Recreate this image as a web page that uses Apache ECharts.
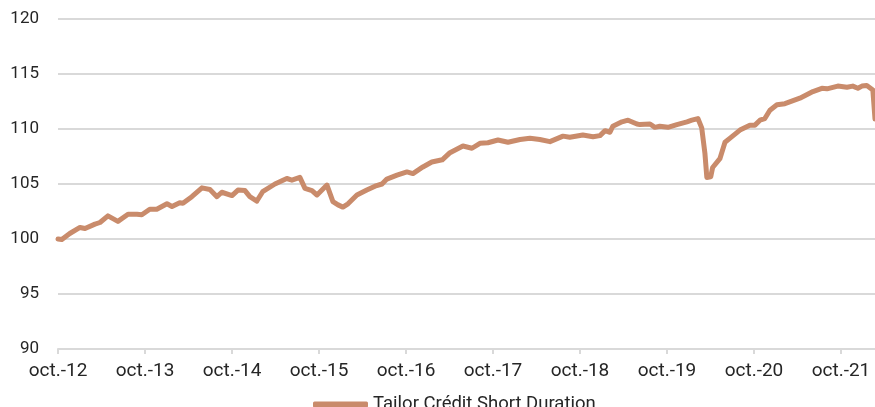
<!DOCTYPE html>
<html>
<head>
<meta charset="utf-8">
<script src="https://cdn.jsdelivr.net/npm/echarts@6/dist/echarts.min.js"></script>
<style>
  html, body { margin: 0; padding: 0; background: #fff; }
  #chart { width: 875px; height: 407px; }
</style>
</head>
<body>
<div id="chart"></div>
<script>
const seriesName = 'Tailor Crédit Short Duration';

const dates = [
  '2012-10-01', '2012-10-17', '2012-11-20', '2013-01-02', '2013-01-23', '2013-03-04',
  '2013-03-25', '2013-04-28', '2013-06-09', '2013-07-21', '2013-08-28', '2013-09-18',
  '2013-10-21', '2013-11-20', '2014-01-02', '2014-01-23', '2014-02-25', '2014-03-08',
  '2014-04-15', '2014-05-27', '2014-06-30', '2014-07-29', '2014-08-19', '2014-10-01',
  '2014-10-26', '2014-11-25', '2014-12-15', '2015-01-14', '2015-02-08', '2015-03-29',
  '2015-04-28', '2015-05-18', '2015-06-09', '2015-07-12', '2015-08-03', '2015-09-02',
  '2015-09-23', '2015-11-04', '2015-11-29', '2015-12-20', '2016-01-10', '2016-02-01',
  '2016-03-08', '2016-04-19', '2016-05-23', '2016-06-22', '2016-07-12', '2016-08-24',
  '2016-10-05', '2016-10-30', '2016-12-11', '2017-01-18', '2017-03-01', '2017-04-03',
  '2017-05-27', '2017-07-04', '2017-08-07', '2017-09-10', '2017-10-22', '2017-12-03',
  '2018-01-23', '2018-03-04', '2018-04-15', '2018-05-27', '2018-07-21', '2018-08-19',
  '2018-10-13', '2018-11-25', '2018-12-24', '2019-01-15', '2019-02-05', '2019-02-17',
  '2019-03-25', '2019-04-20', '2019-05-27', '2019-06-09', '2019-07-21', '2019-08-11',
  '2019-09-01', '2019-10-05', '2019-11-12', '2019-12-24', '2020-01-14', '2020-02-09',
  '2020-02-25', '2020-03-08', '2020-03-16', '2020-04-02', '2020-04-10', '2020-05-10',
  '2020-06-01', '2020-06-21', '2020-08-03', '2020-09-14', '2020-10-05', '2020-10-26',
  '2020-11-16', '2020-12-07', '2021-01-06', '2021-02-09', '2021-04-11', '2021-06-05',
  '2021-07-12', '2021-08-03', '2021-09-18', '2021-10-26', '2021-11-20', '2021-12-11',
  '2021-12-28', '2022-01-18', '2022-02-13', '2022-02-22'
];

const values = [
  100.0, 99.95, 100.5, 101.05, 100.95, 101.35,
  101.5, 102.1, 101.6, 102.25, 102.25, 102.2,
  102.7, 102.7, 103.2, 102.95, 103.3, 103.25,
  103.85, 104.65, 104.5, 103.85, 104.25, 103.95,
  104.45, 104.4, 103.85, 103.45, 104.3, 105.0,
  105.3, 105.5, 105.35, 105.6, 104.6, 104.4,
  104.0, 104.9, 103.4, 103.1, 102.9, 103.2,
  104.0, 104.45, 104.8, 105.0, 105.45, 105.8,
  106.1, 105.95, 106.55, 107.0, 107.2, 107.85,
  108.45, 108.25, 108.7, 108.75, 109.0, 108.8,
  109.05, 109.15, 109.05, 108.85, 109.35, 109.25,
  109.45, 109.3, 109.4, 109.85, 109.7, 110.25,
  110.65, 110.8, 110.45, 110.4, 110.45, 110.15,
  110.25, 110.15, 110.4, 110.65, 110.8, 110.95,
  110.1, 107.8, 105.6, 105.65, 106.5, 107.3,
  108.8, 109.15, 109.9, 110.35, 110.35, 110.8,
  110.95, 111.7, 112.2, 112.3, 112.8, 113.4,
  113.7, 113.65, 113.9, 113.8, 113.9, 113.7,
  113.9, 113.95, 113.55, 110.9
];

const tickLabels = ['oct.-12', 'oct.-13', 'oct.-14', 'oct.-15', 'oct.-16',
                    'oct.-17', 'oct.-18', 'oct.-19', 'oct.-20', 'oct.-21'];

// months elapsed since 1 Oct 2012, so yearly ticks land on October
function monthsFrom(d) {
  const [y, m, dd] = d.split('-').map(Number);
  return (y - 2012) * 12 + (m - 10) + (dd - 1) / 30.4;
}

const points = dates.map((d, i) => [monthsFrom(d), values[i]]);
const font = 'Roboto, "Noto Sans", sans-serif';
const lineColor = '#c98b6b';

const chart = echarts.init(document.getElementById('chart'), null, { renderer: 'canvas' });

chart.setOption({
  animation: false,
  textStyle: { fontFamily: font },
  grid: { left: 58, right: 0, top: 19, bottom: 58, containLabel: false },
  legend: {
    data: [{ name: seriesName, icon: 'roundRect' }],
    top: 390,
    left: 308,
    itemWidth: 55,
    itemHeight: 6,
    textStyle: { fontSize: 18.5, color: '#262626', fontFamily: font }
  },
  xAxis: {
    type: 'value',
    min: 0,
    max: monthsFrom('2022-02-22'),
    interval: 12,
    axisLine: { lineStyle: { color: '#d9d9d9', width: 2 } },
    axisTick: { show: true, length: 5, lineStyle: { color: '#d9d9d9', width: 2 } },
    splitLine: { show: false },
    axisLabel: {
      margin: 13,
      fontSize: 19,
      color: '#262626',
      fontFamily: font,
      showMaxLabel: false,
      formatter: v => (Math.abs(v % 12) < 1e-6 ? tickLabels[Math.round(v / 12)] : '')
    }
  },
  yAxis: {
    type: 'value',
    min: 90,
    max: 120,
    interval: 5,
    axisLine: { show: false },
    axisTick: { show: false },
    splitLine: { lineStyle: { color: '#d9d9d9', width: 2 } },
    axisLabel: { margin: 19, fontSize: 17, color: '#262626', fontFamily: font }
  },
  series: [{
    name: seriesName,
    type: 'line',
    data: points,
    symbol: 'none',
    lineStyle: { color: lineColor, width: 5, cap: 'round', join: 'round' },
    itemStyle: { color: lineColor }
  }]
});
</script>
</body>
</html>
